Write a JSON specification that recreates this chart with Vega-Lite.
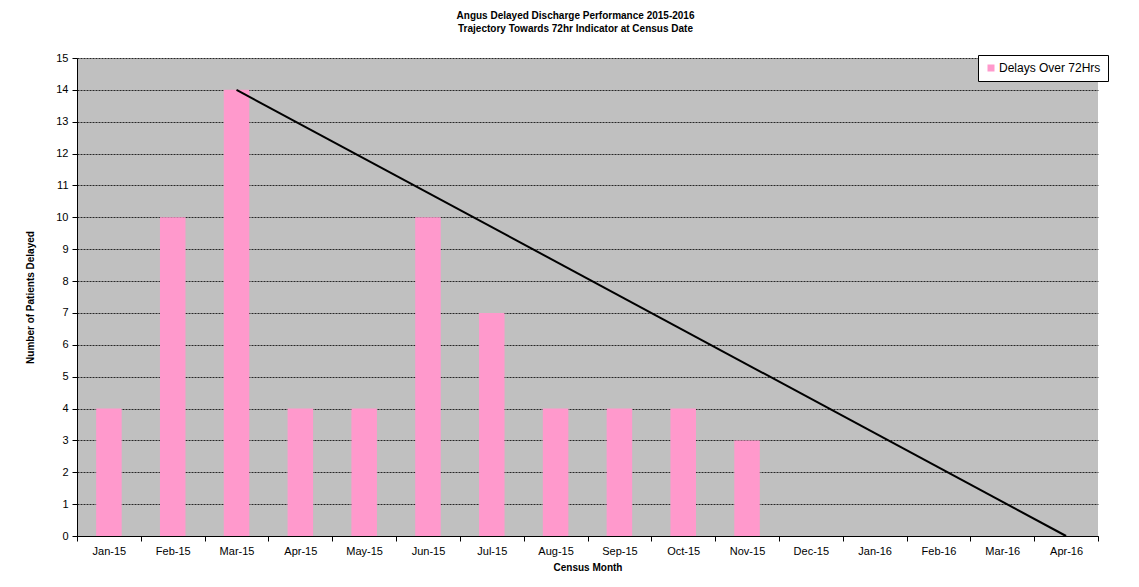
{
  "$schema": "https://vega.github.io/schema/vega-lite/v6.json",
  "autosize": "none",
  "width": 1021,
  "height": 478,
  "padding": {"left": 77, "top": 58, "right": 41, "bottom": 51},
  "background": "white",
  "config": {
    "font": "Liberation Sans",
    "view": {"fill": "#C0C0C0", "stroke": null},
    "axis": {
      "domainColor": "black",
      "tickColor": "black",
      "labelColor": "black",
      "titleColor": "black",
      "labelFontSize": 11,
      "titleFontSize": 10,
      "titleFontWeight": "bold"
    }
  },
  "title": {
    "text": ["Angus Delayed Discharge Performance 2015-2016", "Trajectory Towards 72hr Indicator at Census Date"],
    "fontSize": 10,
    "fontWeight": "bold",
    "color": "black",
    "anchor": "middle",
    "dx": -12,
    "offset": 18,
    "lineHeight": 13
  },
  "datasets": {
    "delays": [
      {"month": "Jan-15", "value": 4, "series": "Delays Over 72Hrs"},
      {"month": "Feb-15", "value": 10, "series": "Delays Over 72Hrs"},
      {"month": "Mar-15", "value": 14, "series": "Delays Over 72Hrs"},
      {"month": "Apr-15", "value": 4, "series": "Delays Over 72Hrs"},
      {"month": "May-15", "value": 4, "series": "Delays Over 72Hrs"},
      {"month": "Jun-15", "value": 10, "series": "Delays Over 72Hrs"},
      {"month": "Jul-15", "value": 7, "series": "Delays Over 72Hrs"},
      {"month": "Aug-15", "value": 4, "series": "Delays Over 72Hrs"},
      {"month": "Sep-15", "value": 4, "series": "Delays Over 72Hrs"},
      {"month": "Oct-15", "value": 4, "series": "Delays Over 72Hrs"},
      {"month": "Nov-15", "value": 3, "series": "Delays Over 72Hrs"}
    ],
    "trajectory": [
      {"month": "Mar-15", "value": 14},
      {"month": "Apr-16", "value": 0}
    ]
  },
  "encoding": {
    "x": {
      "field": "month",
      "type": "nominal",
      "sort": null,
      "scale": {
        "domain": ["Jan-15", "Feb-15", "Mar-15", "Apr-15", "May-15", "Jun-15", "Jul-15", "Aug-15", "Sep-15", "Oct-15", "Nov-15", "Dec-15", "Jan-16", "Feb-16", "Mar-16", "Apr-16"],
        "paddingInner": 0,
        "paddingOuter": 0
      },
      "axis": {
        "title": "Census Month",
        "labelAngle": 0,
        "tickBand": "extent",
        "tickSize": 5,
        "labelPadding": 4,
        "titlePadding": 6,
        "grid": false
      }
    },
    "y": {
      "field": "value",
      "type": "quantitative",
      "scale": {"domain": [0, 15], "nice": false},
      "axis": {
        "title": "Number of Patients Delayed",
        "values": [0, 1, 2, 3, 4, 5, 6, 7, 8, 9, 10, 11, 12, 13, 14, 15],
        "labelOverlap": false,
        "tickSize": 5,
        "labelPadding": 4,
        "titlePadding": 20,
        "grid": true,
        "gridColor": "black",
        "gridDash": [2, 1],
        "gridOpacity": 0.8
      }
    }
  },
  "layer": [
    {
      "data": {"name": "delays"},
      "mark": {"type": "bar", "width": {"band": 0.4}},
      "encoding": {
        "color": {
          "field": "series",
          "type": "nominal",
          "scale": {"range": ["#FF99CC"]},
          "legend": {
            "title": null,
            "orient": "none",
            "legendX": 901,
            "legendY": -3,
            "fillColor": "white",
            "strokeColor": "black",
            "padding": 7,
            "symbolType": "square",
            "symbolSize": 49,
            "symbolOpacity": 1,
            "symbolStrokeWidth": 0,
            "labelFontSize": 12,
            "labelColor": "black",
            "labelOffset": 2
          }
        }
      }
    },
    {
      "data": {"name": "trajectory"},
      "mark": {"type": "line", "color": "black", "strokeWidth": 2}
    }
  ]
}
